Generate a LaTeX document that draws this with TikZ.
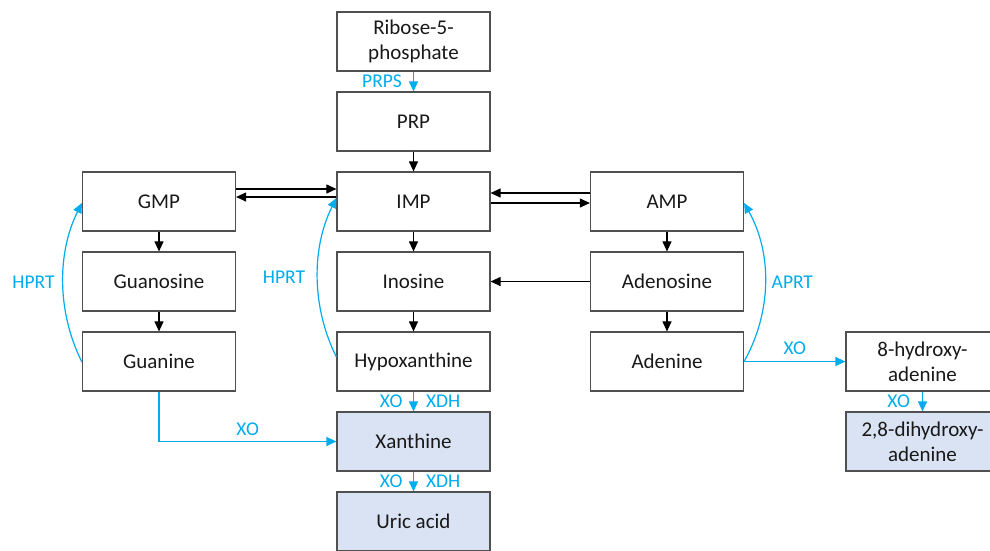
\documentclass[tikz,border=0pt]{standalone}
\usepackage{fontspec}
\setmainfont{Carlito}
\usetikzlibrary{arrows.meta,calc}
\definecolor{lblue}{RGB}{0,172,238}
\definecolor{boxfill}{RGB}{218,227,243}
\definecolor{boxline}{RGB}{80,80,80}
\tikzset{
  box/.style={draw=boxline,line width=1.2pt,minimum width=153pt,minimum height=59pt,inner sep=0pt,align=center,font=\fontsize{21}{25}\selectfont,text=black!90},
  fbox/.style={box,fill=boxfill},
  blk/.style={draw=black,line width=1.1pt,-{Triangle[length=10pt,width=9pt]}},
  blu/.style={draw=lblue,line width=1.2pt,-{Triangle[length=10pt,width=9pt]}},
  lbl/.style={text=lblue,inner sep=0pt,font=\fontsize{19.5}{23}\selectfont}
}
\begin{document}
\begin{tikzpicture}[x=1pt,y=-1pt]
\useasboundingbox (0,0) rectangle (990,550);
\node[box] (ribose) at (413.5,41.5) {Ribose-5-\\phosphate};
\node[box] (prp) at (413.5,121.5) {PRP};
\node[box] (gmp) at (159,201.5) {GMP};
\node[box] (imp) at (413.5,201.5) {IMP};
\node[box] (amp) at (667,201.5) {AMP};
\node[box] (guanosine) at (159,281.5) {Guanosine};
\node[box] (inosine) at (413.5,281.5) {Inosine};
\node[box] (adenosine) at (667,281.5) {Adenosine};
\node[box] (guanine) at (159,361.5) {Guanine};
\node[box] (hypox) at (413.5,361.5) {Hypoxanthine};
\node[box] (adenine) at (667,361.5) {Adenine};
\node[fbox] (xanthine) at (413.5,441.5) {Xanthine};
\node[fbox] (uric) at (413.5,521.5) {Uric acid};
\node[box] (hydroxy) at (922.5,361.5) {8-hydroxy-\\adenine};
\node[fbox] (dihydroxy) at (922.5,441.5) {2,8-dihydroxy-\\adenine};

% black arrows
\draw[blk] (prp.south) -- (imp.north);
\draw[blk] (gmp.south) -- (guanosine.north);
\draw[blk] (guanosine.south) -- (guanine.north);
\draw[blk] (imp.south) -- (inosine.north);
\draw[blk] (inosine.south) -- (hypox.north);
\draw[blk] (amp.south) -- (adenosine.north);
\draw[blk] (adenosine.south) -- (adenine.north);
\draw[blk] ([yshift=12.5pt]gmp.east) -- ([yshift=12.5pt]imp.west);
\draw[blk] ([yshift=4.5pt]imp.west) -- ([yshift=4.5pt]gmp.east);
\draw[blk] ([yshift=8.5pt]amp.west) -- ([yshift=8.5pt]imp.east);
\draw[blk] ([yshift=-1.5pt]imp.east) -- ([yshift=-1.5pt]amp.west);
\draw[blk] (adenosine.west) -- (inosine.east);

% blue arrows
\draw[blu] (ribose.south) -- node[lbl,left=11pt] {PRPS} (prp.north);
\draw[blu] (hypox.south) -- node[lbl,left=10.5pt] {XO} node[lbl,right=12pt] {XDH} (xanthine.north);
\draw[blu] (xanthine.south) -- node[lbl,left=10.5pt] {XO} node[lbl,right=12pt] {XDH} (uric.north);
\draw[blu] (hydroxy.south) -- node[lbl,left=12pt] {XO} (dihydroxy.north);
\draw[blu] (adenine.east) -- node[lbl,above=6pt] {XO} (hydroxy.west);
\draw[blu] (guanine.south) |- node[lbl,pos=0.75,above=5pt] {XO} (xanthine.west);

% salvage arcs
\draw[blu] ([yshift=-0.5pt]guanine.west) .. controls +(-25,-50) and +(-25,50) .. node[lbl,left=8pt] {HPRT} ([yshift=-1.5pt]gmp.west);
\draw[blu] ([yshift=4.5pt]hypox.west) .. controls +(-25,-50) and +(-25,50) .. node[lbl,left=12pt] {HPRT} ([yshift=3.5pt]imp.west);
\draw[blu] ([yshift=0pt]adenine.east) .. controls +(28,-50) and +(28,50) .. node[lbl,right=6pt] {APRT} ([yshift=-1.5pt]amp.east);
\end{tikzpicture}
\end{document}
